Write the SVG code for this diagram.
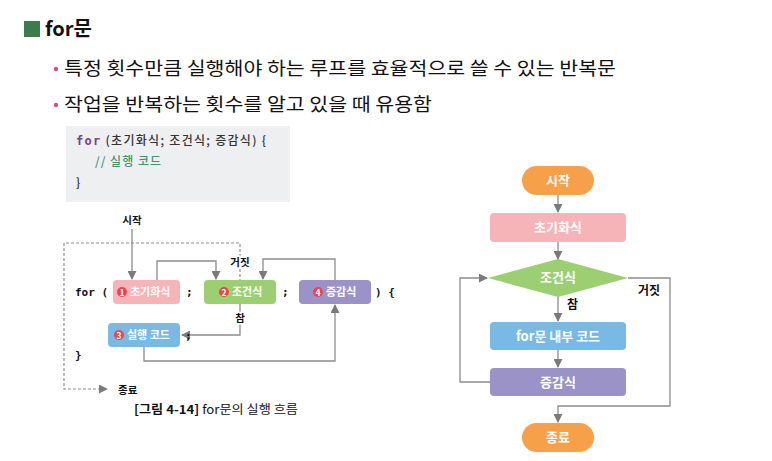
<svg xmlns="http://www.w3.org/2000/svg" width="772" height="461" viewBox="0 0 772 461">
<style>
text{font-family:"Noto Sans CJK KR","Noto Sans",sans-serif}
.k{fill:#111}
.b{font-weight:bold}
.w{fill:#fff;font-weight:bold}
.ln{fill:none;stroke:#8c8c8c;stroke-width:1.3}
.dash{fill:none;stroke:#8c8c8c;stroke-width:1.2;stroke-dasharray:3 2}
.mono{font-family:"DejaVu Sans Mono","Liberation Mono",monospace}
.num{fill:#e8474f}
</style>
<defs>
<marker id="ar" viewBox="0 0 10 10" refX="9" refY="5" markerWidth="9" markerHeight="9" markerUnits="userSpaceOnUse" orient="auto"><path d="M0,0L10,5L0,10z" fill="#7a7a7a"/></marker>
</defs>
<rect width="772" height="461" fill="#fff"/>

<!-- header -->
<g id="title">
<rect x="24" y="21" width="16" height="16" fill="#3c7b4c"/>
<text x="45" y="36" font-size="20" class="b k">for문</text>
</g>
<g id="bullets">
<circle cx="56" cy="69" r="2.2" fill="#e34d6b"/>
<text x="64" y="75" font-size="18" class="k" textLength="552" lengthAdjust="spacingAndGlyphs">특정 횟수만큼 실행해야 하는 루프를 효율적으로 쓸 수 있는 반복문</text>
<circle cx="56" cy="105" r="2.2" fill="#e34d6b"/>
<text x="64" y="111" font-size="18" class="k" textLength="368" lengthAdjust="spacingAndGlyphs">작업을 반복하는 횟수를 알고 있을 때 유용함</text>
</g>

<!-- code box -->
<g id="code">
<rect x="66" y="126" width="224" height="76" fill="#eeeff0"/>
<text x="76" y="145" font-size="12" font-weight="500" fill="#333" textLength="190" lengthAdjust="spacing"><tspan class="mono" font-weight="bold" fill="#7a3f8f">for</tspan> (초기화식; 조건식; 증감식) {</text>
<text x="95" y="166" font-size="12" font-weight="500" fill="#3a9a6a" textLength="66" lengthAdjust="spacing">// 실행 코드</text>
<text x="76" y="187" font-size="12" font-weight="500" fill="#333">}</text>
</g>

<!-- left diagram connectors -->
<g id="left-connectors">
<line class="ln" x1="132" y1="229" x2="132" y2="279" marker-end="url(#ar)"/>
<polyline class="dash" points="240,287 240,243 64,243 64,389 107,389" marker-end="url(#ar)"/>
<polyline class="ln" points="157,280 157,261 216,261 216,279" marker-end="url(#ar)"/>
<polyline class="ln" points="335,280 335,259 263,259 263,279" marker-end="url(#ar)"/>
<polyline class="ln" points="240,303 240,335 182,335" marker-end="url(#ar)"/>
<polyline class="ln" points="144,347 144,361 335,361 335,305" marker-end="url(#ar)"/>
</g>

<g id="left-labels" font-size="10.5" class="b">
<text x="132" y="224" text-anchor="middle" class="k b">시작</text>
<text x="240" y="266" text-anchor="middle" class="k b" stroke="#fff" stroke-width="3" paint-order="stroke">거짓</text>
<text x="240" y="322" text-anchor="middle" class="k b" stroke="#fff" stroke-width="3" paint-order="stroke">참</text>
<text x="118" y="394" class="k b">종료</text>
<text x="75" y="296" class="mono k b" font-size="11">for (</text>
<text x="186" y="296" class="mono k b" font-size="11">;</text>
<text x="282" y="296" class="mono k b" font-size="11">;</text>
<text x="375" y="296" class="mono k b" font-size="11">) {</text>
<text x="185" y="340" class="mono k b" font-size="11">;</text>
<text x="75" y="359" class="mono k b" font-size="11">}</text>
</g>

<g id="box1">
<rect x="113" y="280" width="67" height="24" rx="4" fill="#f6b4b8"/>
<circle cx="122" cy="292" r="5" class="num"/>
<text x="122" y="295.5" font-size="8.5" text-anchor="middle" class="w">1</text>
<text x="130" y="296" font-size="11" class="w">초기화식</text>
</g>
<g id="box2">
<rect x="204" y="280" width="72" height="24" rx="4" fill="#9ccf72"/>
<circle cx="224" cy="292" r="5" class="num"/>
<text x="224" y="295.5" font-size="8.5" text-anchor="middle" class="w">2</text>
<text x="232" y="296" font-size="11" class="w">조건식</text>
</g>
<g id="box4">
<rect x="299" y="280" width="72" height="24" rx="4" fill="#9b93c7"/>
<circle cx="318" cy="292" r="5" class="num"/>
<text x="318" y="295.5" font-size="8.5" text-anchor="middle" class="w">4</text>
<text x="326" y="296" font-size="11" class="w">증감식</text>
</g>
<g id="box3">
<rect x="108" y="323" width="72" height="24" rx="4" fill="#79b9e6"/>
<circle cx="119" cy="335" r="5" class="num"/>
<text x="119" y="338.5" font-size="8.5" text-anchor="middle" class="w">3</text>
<text x="127" y="339" font-size="11" class="w">실행 코드</text>
</g>

<g id="caption">
<text x="134" y="414" font-size="12" class="k" textLength="164" lengthAdjust="spacingAndGlyphs"><tspan font-weight="bold">[그림 4-14]</tspan> for문의 실행 흐름</text>
</g>

<!-- right flowchart connectors -->
<g id="right-connectors">
<line class="ln" x1="558" y1="195" x2="558" y2="212" marker-end="url(#ar)"/>
<line class="ln" x1="558" y1="242" x2="558" y2="259" marker-end="url(#ar)"/>
<line class="ln" x1="558" y1="295" x2="558" y2="321" marker-end="url(#ar)"/>
<line class="ln" x1="558" y1="350" x2="558" y2="367" marker-end="url(#ar)"/>
<polyline class="ln" points="490,382 460,382 460,278 487,278" marker-end="url(#ar)"/>
<polyline class="ln" points="628,278 670,278 670,406 558,406 558,422" marker-end="url(#ar)"/>
</g>
<g id="right-labels" font-size="12" class="b">
<text x="638" y="295" class="k b">거짓</text>
<text x="567" y="309" class="k b">참</text>
</g>

<g id="start">
<rect x="522" y="166" width="72" height="29" rx="14.5" fill="#f6a04a"/>
<text x="558" y="185" font-size="13" text-anchor="middle" class="w">시작</text>
</g>
<g id="init">
<rect x="490" y="213" width="136" height="29" rx="4" fill="#f6b4b8"/>
<text x="558" y="232" font-size="13" text-anchor="middle" class="w">초기화식</text>
</g>
<g id="cond">
<polygon points="488,278 558,259 628,278 558,297" fill="#9ccf72"/>
<text x="558" y="282" font-size="13" text-anchor="middle" class="w">조건식</text>
</g>
<g id="body">
<rect x="490" y="322" width="136" height="28" rx="4" fill="#79b9e6"/>
<text x="558" y="341" font-size="13" text-anchor="middle" class="w">for문 내부 코드</text>
</g>
<g id="incr">
<rect x="490" y="368" width="136" height="28" rx="4" fill="#9b93c7"/>
<text x="558" y="387" font-size="13" text-anchor="middle" class="w">증감식</text>
</g>
<g id="end">
<rect x="522" y="423" width="72" height="29" rx="14.5" fill="#f6a04a"/>
<text x="558" y="442" font-size="13" text-anchor="middle" class="w">종료</text>
</g>
</svg>
